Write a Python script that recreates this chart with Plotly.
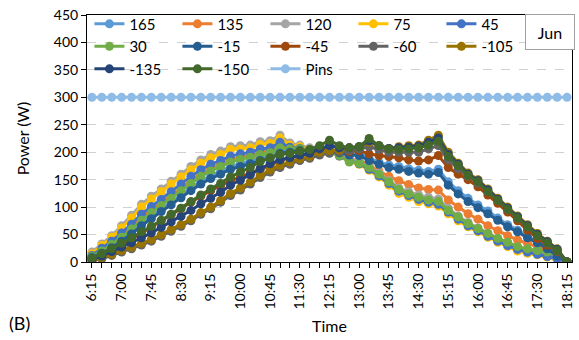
import plotly.graph_objects as go

times = ["6:15", "6:30", "6:45", "7:00", "7:15", "7:30", "7:45", "8:00", "8:15", "8:30",
         "8:45", "9:00", "9:15", "9:30", "9:45", "10:00", "10:15", "10:30", "10:45", "11:00",
         "11:15", "11:30", "11:45", "12:00", "12:15", "12:30", "12:45", "13:00", "13:15", "13:30",
         "13:45", "14:00", "14:15", "14:30", "14:45", "15:00", "15:15", "15:30", "15:45", "16:00",
         "16:15", "16:30", "16:45", "17:00", "17:15", "17:30", "17:45", "18:00", "18:15"]

tick_labels = ["6:15", "7:00", "7:45", "8:30", "9:15", "10:00", "10:45", "11:30", "12:15",
               "13:00", "13:45", "14:30", "15:15", "16:00", "16:45", "17:30", "18:15"]

p165 = [9, 18, 29, 41, 55, 70, 83, 96, 109, 122, 135, 147, 157, 165, 174, 179, 184, 190, 193, 202,
        202, 204, 202, 207, 203, 200, 197, 197, 189, 182, 177, 174, 170, 167, 165, 169, 146, 130, 116, 104,
        93, 80, 68, 58, 47, 37, 26, 12, 0]
p135 = [11, 22, 35, 49, 64, 81, 95, 108, 121, 135, 149, 161, 171, 179, 187, 191, 195, 200, 203, 212,
        206, 206, 203, 206, 202, 196, 188, 185, 177, 165, 156, 148, 141, 135, 132, 131, 113, 100, 88, 78,
        66, 57, 48, 40, 34, 28, 21, 13, 0]
p120 = [18, 33, 48, 66, 85, 105, 120, 133, 147, 160, 174, 186, 196, 202, 210, 212, 213, 219, 221, 231,
        217, 213, 208, 210, 205, 197, 188, 183, 173, 162, 148, 135, 128, 122, 118, 115, 98, 84, 72, 62,
        52, 43, 35, 27, 22, 18, 13, 8, 0]
p75 = [15, 30, 45, 62, 80, 100, 115, 128, 142, 155, 168, 180, 190, 196, 205, 206, 208, 214, 216, 226,
       213, 210, 205, 207, 202, 193, 183, 178, 167, 155, 140, 125, 118, 110, 106, 102, 88, 75, 64, 55,
       45, 36, 28, 20, 16, 13, 9, 5, 0]
p45 = [12, 25, 38, 53, 69, 87, 101, 114, 128, 142, 156, 168, 178, 185, 193, 197, 200, 206, 208, 218,
       209, 207, 204, 206, 201, 193, 184, 179, 169, 157, 143, 129, 121, 114, 109, 105, 91, 78, 66, 57,
       47, 38, 30, 23, 18, 14, 10, 6, 0]
p30 = [10, 20, 32, 45, 60, 76, 90, 103, 116, 130, 143, 156, 166, 174, 182, 187, 191, 196, 199, 208,
       206, 206, 203, 206, 201, 194, 182, 180, 172, 160, 146, 132, 124, 118, 113, 110, 94, 82, 70, 61,
       52, 43, 36, 28, 24, 21, 18, 14, 0]
m15 = [8, 16, 26, 38, 51, 66, 79, 92, 104, 117, 130, 142, 152, 160, 169, 174, 179, 185, 189, 198,
       200, 203, 202, 207, 203, 199, 195, 194, 185, 178, 172, 169, 165, 162, 160, 163, 140, 124, 110, 99,
       88, 76, 64, 55, 44, 35, 24, 11, 0]
m45 = [5, 12, 20, 30, 41, 53, 64, 75, 86, 97, 109, 120, 130, 139, 148, 155, 162, 170, 176, 185,
       190, 195, 197, 204, 203, 202, 201, 203, 197, 194, 192, 190, 186, 184, 186, 194, 172, 160, 150, 137,
       122, 107, 91, 75, 58, 43, 31, 19, 0]
m60 = [2, 6, 12, 18, 24, 31, 38, 47, 56, 65, 75, 87, 97, 109, 121, 131, 142, 154, 164, 172,
       178, 185, 189, 195, 198, 200, 203, 206, 210, 205, 200, 200, 200, 200, 206, 212, 186, 170, 156, 144,
       128, 112, 96, 80, 64, 48, 34, 20, 0]
m105 = [3, 8, 14, 21, 27, 34, 41, 50, 59, 68, 78, 90, 100, 112, 125, 135, 146, 158, 168, 176,
        182, 188, 192, 200, 203, 204, 208, 210, 218, 212, 207, 210, 212, 213, 222, 231, 200, 180, 162, 150,
        133, 116, 100, 84, 68, 52, 38, 24, 0]
m135 = [5, 11, 19, 27, 35, 44, 53, 63, 73, 83, 94, 106, 116, 127, 140, 149, 159, 170, 179, 186,
        190, 195, 198, 206, 212, 208, 208, 210, 221, 212, 207, 208, 209, 211, 218, 226, 196, 178, 160, 148,
        131, 114, 98, 82, 66, 50, 37, 23, 0]
m150 = [7, 15, 24, 34, 44, 55, 65, 76, 87, 98, 110, 122, 133, 143, 155, 164, 172, 183, 190, 196,
        198, 202, 205, 212, 222, 212, 208, 210, 225, 212, 206, 205, 206, 208, 213, 220, 192, 176, 158, 146,
        128, 112, 96, 80, 64, 48, 35, 21, 0]
pins = [300] * len(times)

series_names = ["165", "135", "120", "75", "45", "30", "-15", "-45", "-60", "-105", "-135", "-150", "Pins"]
series_values = [p165, p135, p120, p75, p45, p30, m15, m45, m60, m105, m135, m150, pins]
colors = ["#5B9BD5", "#ED7D31", "#A5A5A5", "#FFC000", "#4472C4", "#70AD47", "#255E91",
          "#9E480E", "#636363", "#997300", "#264478", "#43682B", "#8FBCE6"]

FONT = "Lato, 'Liberation Sans', Arial, sans-serif"

fig = go.Figure()
for name, vals, col in zip(series_names, series_values, colors):
    fig.add_trace(go.Scatter(
        x=times, y=vals, name=name, mode="lines+markers",
        line=dict(color=col, width=3),
        marker=dict(color=col, size=9, symbol="circle"),
    ))

ticktext = [t if t in tick_labels else "" for t in times]

fig.update_layout(
    width=579, height=340,
    margin=dict(l=87, r=7, t=15, b=78, autoexpand=False),
    paper_bgcolor="white", plot_bgcolor="white",
    font=dict(family=FONT, size=14, color="#000"),
    showlegend=True,
    legend=dict(
        orientation="h", x=0.005, y=1.03, xanchor="left", yanchor="top",
        bgcolor="rgba(0,0,0,0)", entrywidth=43, entrywidthmode="pixels",
        font=dict(family=FONT, size=15, color="#000"),
        itemwidth=30, tracegroupgap=0,
    ),
    xaxis=dict(
        type="category", tickmode="array", tickvals=times, ticktext=ticktext,
        range=[-0.5, len(times) - 0.5], automargin=False,
        tickangle=-90, tickfont=dict(size=14), ticks="outside", ticklen=5,
        tickcolor="#000", showline=True, linecolor="#000", linewidth=1, mirror=True,
        showgrid=False,
        title=dict(text="Time", font=dict(size=16), standoff=12),
    ),
    yaxis=dict(
        range=[0, 450], dtick=50, tickfont=dict(size=14), ticks="outside", ticklen=5,
        tickcolor="#000", showline=True, linecolor="#000", linewidth=1, mirror=True,
        showgrid=True, gridcolor="#D0D0D0", griddash="dash", gridwidth=1, zeroline=False,
        automargin=False,
        title=dict(text="Power (W)", font=dict(size=16), standoff=20),
    ),
    annotations=[
        dict(text="Jun", xref="paper", yref="paper", x=1.006, y=1.004,
             xanchor="right", yanchor="top", showarrow=False,
             font=dict(size=16, color="#000"), bgcolor="white",
             bordercolor="#A0A0A0", borderwidth=1, width=44, height=30, borderpad=2),
        dict(text="(B)", xref="paper", yref="paper", x=-0.165, y=-0.245,
             xanchor="left", yanchor="middle", showarrow=False,
             font=dict(size=18, color="#000")),
    ],
)

fig.write_html("out.html", config={"displayModeBar": False},
               post_script="document.body.style.margin='0';document.body.style.overflow='hidden';")
